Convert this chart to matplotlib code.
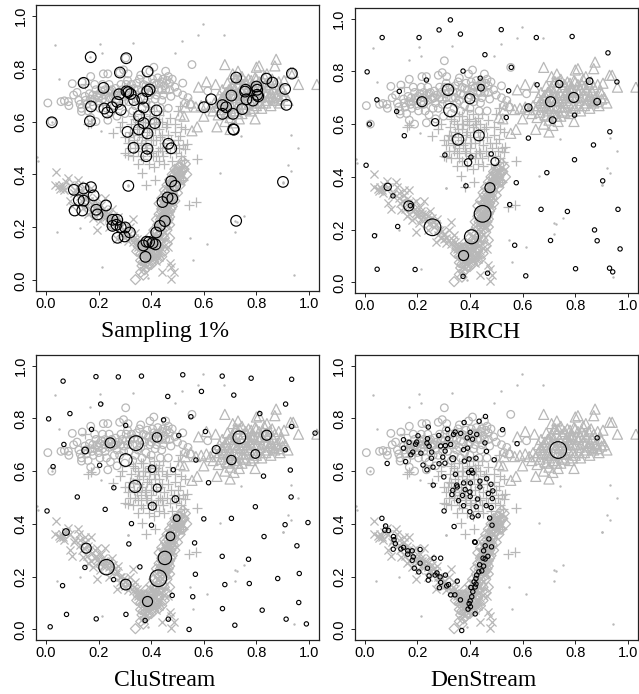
import numpy as np
import matplotlib
matplotlib.use('Agg')
import matplotlib.pyplot as plt

plt.rcParams['font.family'] = ['Liberation Sans', 'DejaVu Sans']

# background data as (x, y)
circles = np.array([
(.007,.67),(.057,.675),(.07,.678),(.085,.675),(.087,.66),(.10,.743),(.105,.70),(.118,.71),(.125,.68),(.13,.665),(.135,.65),
(.135,.638),(.138,.748),(.17,.77),(.022,.60),(.19,.60),(.17,.615),(.148,.695),(.155,.665),(.168,.685),(.178,.70),(.19,.72),
(.20,.69),(.205,.65),(.218,.78),(.235,.78),(.28,.785),(.295,.795),(.312,.78),(.303,.84),(.235,.605),(.25,.72),(.24,.69),
(.222,.70),(.21,.715),(.23,.65),(.245,.635),(.26,.70),(.265,.725),(.27,.68),(.28,.66),(.29,.72),(.295,.695),(.305,.74),
(.315,.675),(.32,.72),(.33,.70),(.34,.66),(.345,.745),(.35,.72),(.355,.76),(.36,.69),(.37,.74),(.375,.71),(.38,.67),(.385,.755),
(.39,.73),(.395,.79),(.40,.71),(.405,.76),(.41,.805),(.415,.685),(.42,.74),(.425,.765),(.43,.72),(.435,.65),(.44,.75),(.445,.70),
(.45,.735),(.455,.79),(.46,.755),(.465,.77),(.47,.72),(.465,.65),(.475,.695),(.49,.73),(.50,.71),(.52,.745),(.555,.815),(.54,.69),
(.53,.67),(.52,.70),(.55,.665),(.30,.63),(.33,.64),(.27,.62),(.18,.66),(.16,.64),(.20,.67),(.215,.74),(.24,.74),(.26,.66),
(.285,.74),(.31,.70),(.345,.70),(.365,.65),(.40,.66),(.42,.70),(.44,.72),(.615,.715),(.185,.74),(.225,.72),(.31,.755),(.36,.775),
(.15,.68),(.165,.705),(.175,.675),(.185,.685),(.195,.70),(.205,.705),(.215,.685),(.225,.675),(.235,.71),(.245,.715),(.255,.695),
(.265,.70),(.275,.71),(.285,.70),(.295,.675),(.305,.715),(.325,.74),(.335,.725),(.35,.68),(.365,.715),(.38,.735),(.395,.70),
(.41,.72),(.43,.745),(.445,.76),(.455,.72),(.47,.745),(.48,.76),(.44,.68),(.41,.745)])
triangles = np.array([
(.68,.815),(.58,.73),(.61,.75),(.51,.625),(.525,.62),(.555,.565),(.575,.58),(.60,.62),(.53,.655),(.55,.67),(.57,.655),(.59,.66),
(.61,.665),(.625,.655),(.635,.64),(.64,.67),(.645,.74),(.65,.58),(.655,.625),(.66,.70),(.665,.645),(.67,.72),(.675,.665),(.68,.60),
(.685,.635),(.69,.745),(.695,.69),(.70,.615),(.70,.57),(.705,.66),(.71,.74),(.71,.78),(.715,.595),(.72,.70),(.72,.64),(.725,.76),
(.73,.79),(.73,.665),(.735,.61),(.74,.72),(.74,.685),(.745,.77),(.75,.74),(.75,.65),(.755,.70),(.76,.665),(.765,.72),(.77,.76),
(.775,.68),(.78,.64),(.785,.74),(.79,.70),(.795,.61),(.80,.805),(.80,.76),(.80,.66),(.81,.72),(.81,.81),(.815,.69),(.82,.65),
(.825,.75),(.83,.71),(.835,.67),(.84,.78),(.845,.73),(.85,.695),(.855,.66),(.86,.76),(.865,.72),(.87,.81),(.87,.68),(.875,.835),
(.88,.705),(.885,.75),(.89,.67),(.895,.725),(.90,.695),(.905,.755),(.91,.70),(.92,.68),(.93,.785),(.94,.785),(.96,.74),(1.03,.74),
(.67,.69),(.69,.665),(.70,.72),(.715,.67),(.73,.74),(.745,.63),(.76,.75),(.775,.71),(.79,.67),(.805,.73),(.82,.70),(.84,.68),
(.855,.71),(.87,.74),(.65,.655),(.66,.67),(.68,.70),(.725,.69),(.755,.68),(.785,.72),
(.675,.68),(.685,.71),(.695,.72),(.70,.65),(.71,.70),(.715,.72),(.72,.76),(.735,.70),(.735,.76),(.745,.71),(.75,.665),(.76,.71),
(.765,.69),(.77,.73),(.78,.70),(.78,.755),(.79,.73),(.795,.765),(.80,.70),(.81,.75),(.815,.67),(.82,.73),(.83,.77),(.835,.74),
(.84,.705),(.85,.75),(.86,.69),(.875,.70),(.885,.685),(.90,.715),(.69,.63),(.70,.67),(.715,.64),(.73,.63),(.76,.645),(.79,.65)])
pluses = np.array([
(.16,.59),(.17,.595),(.15,.74),(.255,.555),(.28,.58),(.29,.60),(.30,.48),(.31,.475),(.32,.50),(.30,.54),(.31,.52),(.32,.56),
(.325,.59),(.33,.47),(.335,.53),(.34,.61),(.345,.57),(.35,.49),(.35,.44),(.355,.55),(.36,.63),(.36,.51),(.365,.405),(.37,.58),
(.37,.46),(.375,.60),(.38,.53),(.38,.36),(.385,.49),(.39,.57),(.39,.44),(.395,.62),(.40,.51),(.40,.55),(.405,.47),(.41,.59),
(.41,.43),(.415,.38),(.42,.53),(.42,.61),(.425,.49),(.43,.57),(.43,.45),(.435,.50),(.44,.55),(.44,.60),(.445,.47),(.45,.44),
(.45,.52),(.455,.58),(.46,.50),(.465,.55),(.47,.48),(.475,.53),(.48,.45),(.485,.51),(.49,.56),(.495,.48),(.50,.53),(.505,.50),
(.51,.545),(.515,.47),(.52,.51),(.525,.455),(.53,.495),(.535,.515),(.52,.38),(.545,.285),(.57,.295),(.575,.46),(.35,.60),(.37,.63),
(.39,.655),(.41,.64),(.43,.625),(.445,.64),(.47,.615),(.46,.59),(.49,.59),(.515,.58),(.53,.57),(.50,.64),(.51,.66),(.33,.62),
(.315,.54),(.33,.555),(.345,.52),(.355,.58),(.365,.54),(.375,.52),(.385,.56),(.395,.595),(.405,.53),(.415,.57),(.425,.60),(.435,.54),
(.34,.50),(.36,.47),(.38,.50),(.40,.48),(.42,.47),(.44,.49),(.37,.60),(.39,.61)])
crosses = np.array([
(.037,.41),(.035,.36),(.05,.355),(.055,.345),(.06,.36),(.065,.35),(.07,.34),(.075,.37),(.085,.385),(.09,.36),(.09,.30),(.10,.28),
(.105,.33),(.11,.34),(.12,.38),(.125,.36),(.13,.32),(.135,.30),(.14,.275),(.15,.33),(.155,.28),(.165,.30),(.17,.35),(.17,.26),
(.18,.235),(.185,.27),(.195,.31),(.195,.19),(.20,.25),(.205,.225),(.21,.285),(.22,.26),(.225,.31),(.23,.24),(.24,.25),(.245,.22),
(.25,.27),(.26,.23),(.265,.21),(.27,.155),(.275,.24),(.285,.20),(.29,.17),(.30,.185),(.31,.15),(.32,.20),(.33,.23),(.335,.16),
(.345,.14),(.35,.125),(.36,.11),(.37,.14),(.38,.12),(.39,.10),(.40,.13),(.41,.09),(.42,.075),(.43,.105),(.44,.12),(.45,.13),
(.465,.125),(.44,.03),(.475,.05),(.47,.065),(.485,.03),(.475,.005),(.15,.35),(.13,.34),(.16,.25),(.19,.28),(.215,.24),(.24,.20),
(.28,.18),(.31,.17),(.36,.13),(.34,.18),
(.145,.31),(.16,.315),(.175,.29),(.185,.30),(.195,.265),(.205,.26),(.215,.27),(.23,.26),(.24,.235),(.255,.245),(.27,.22),(.28,.20),
(.295,.195),(.30,.165),(.32,.16),(.33,.145),(.345,.155),(.355,.14),(.37,.115),(.385,.105),(.40,.09),(.415,.105),(.43,.09)])
diamonds = np.array([
(.34,.003),(.36,.03),(.365,.055),(.37,.02),(.375,.04),(.38,.065),(.385,.05),(.36,.075),(.37,.09),(.365,.12),(.375,.11),(.38,.13),
(.385,.10),(.39,.08),(.395,.145),(.40,.115),(.405,.09),(.41,.135),(.41,.16),(.415,.11),(.42,.18),(.42,.14),(.425,.21),(.43,.12),
(.43,.17),(.435,.23),(.435,.15),(.44,.19),(.44,.26),(.445,.28),(.445,.21),(.45,.16),(.45,.24),(.455,.30),(.455,.27),(.46,.19),
(.46,.22),(.46,.32),(.465,.25),(.465,.34),(.47,.29),(.47,.21),(.475,.36),(.475,.27),(.48,.31),(.48,.33),(.485,.38),(.485,.35),
(.49,.30),(.49,.40),(.495,.37),(.50,.33),(.50,.42),(.505,.39),(.51,.36),(.51,.43),(.515,.41),(.52,.45),(.52,.38),(.525,.42),
(.53,.44),(.535,.40),(.43,.29),(.44,.31),(.45,.34),(.46,.36),(.47,.38),(.48,.40),(.49,.42),(.44,.24),(.45,.22),(.46,.26),
(.47,.24),(.48,.28),(.42,.23),(.43,.25),(.43,.20),(.41,.19),(.40,.17),(.39,.12),(.38,.15),(.35,.13),(.345,.11),(.40,.14),
(.42,.10),(.44,.09),(.45,.11),(.46,.14),(.47,.16),(.40,.06),(.41,.07),(.43,.08),(.445,.17),(.455,.20),(.465,.29),(.475,.32),
(.485,.34),(.495,.39),(.505,.41),(.44,.27),(.45,.28),(.46,.30),
(.415,.15),(.425,.13),(.42,.16),(.43,.15),(.435,.18),(.44,.21),(.445,.23),(.45,.25),(.45,.30),(.455,.23),(.455,.33),(.46,.28),
(.465,.23),(.465,.31),(.47,.26),(.47,.33),(.475,.30),(.48,.35),(.48,.37),(.485,.32),(.49,.36),(.49,.38),(.495,.41),(.50,.37),
(.505,.43),(.51,.40),(.515,.38),(.52,.42),(.395,.10),(.405,.13),(.385,.12),(.375,.13),(.36,.10),(.37,.07),(.38,.09),(.39,.06)])
dots = np.array([
(.596,.968),(.678,.927),(.519,.905),(.577,.927),(.033,.889),(.206,.892),(.331,.897),(.213,.860),(.169,.842),(.490,.860),(.048,.760),
(.043,.183),(.131,.199),(.213,.050),(.311,.359),(.21,.565),(.661,.405),(.902,.369),(.919,.435),(.931,.414),(.931,.549),(.957,.499),
(.741,.544),(.725,.222),(.753,.243),(.718,.183),(.549,.160),(.614,.136),(.558,.076),(.942,.020),(-.034,.467),(-.03,.452),(.388,.01),
(.022,.60),(.72,.225),(.90,.37),(.31,.357)])

# clusters of each method
sampling = np.array([
(.17,.843),(.305,.839),(.281,.785),(.386,.789),(.143,.746),(.219,.727),(.022,.597),(.171,.657),(.167,.601),(.222,.649),(.233,.634),
(.251,.654),(.271,.674),(.278,.703),(.284,.644),(.306,.714),(.322,.704),(.313,.711),(.335,.681),(.366,.687),(.385,.714),(.394,.721),
(.42,.642),(.371,.653),(.354,.621),(.371,.594),(.414,.594),(.31,.561),(.353,.57),(.386,.555),(.333,.501),(.386,.497),(.381,.469),
(.465,.516),(.476,.499),(.313,.357),(.476,.374),(.491,.357),(.462,.313),(.48,.309),(.443,.296),(.106,.342),(.143,.347),(.171,.352),
(.181,.321),(.125,.303),(.143,.301),(.109,.264),(.138,.264),(.191,.267),(.196,.249),(.228,.283),(.253,.229),(.271,.229),(.253,.206),
(.268,.21),(.284,.201),(.301,.2),(.319,.181),(.299,.166),(.272,.161),(.452,.224),(.433,.206),(.419,.181),(.37,.132),(.382,.146),
(.392,.145),(.405,.141),(.416,.136),(.378,.089),(.723,.225),(.901,.372),(.601,.654),(.628,.684),(.671,.662),(.685,.654),(.671,.629),
(.705,.698),(.711,.629),(.723,.766),(.714,.569),(.712,.571),(.746,.647),(.759,.72),(.757,.713),(.762,.684),(.787,.679),(.8,.732),
(.803,.72),(.803,.701),(.807,.695),(.838,.762),(.861,.747),(.909,.723),(.914,.663),(.935,.781)])
birch_small = np.array([
(.326,.995),(.283,.957),(.364,.941),(.519,.958),(.067,.928),(.207,.928),(.652,.928),(.788,.932),(.924,.870),(.457,.863),(.010,.798),
(.374,.801),(.557,.815),(.439,.774),(.235,.767),(.132,.724),(.047,.692),(.958,.760),(.547,.726),(.655,.749),(.122,.648),(.019,.600),
(.538,.625),(.797,.634),(.151,.556),(.931,.571),(.622,.547),(.869,.521),(.006,.444),(.305,.483),(.404,.475),(.481,.487),(.797,.465),
(.904,.385),(.692,.416),(.576,.378),(.385,.366),(.108,.328),(.174,.291),(.551,.295),(.670,.277),(.770,.269),(.962,.277),(.126,.212),
(.038,.177),(.873,.199),(.706,.159),(.883,.158),(.570,.141),(.970,.127),(.048,.050),(.192,.049),(.801,.052),(.930,.054),(.942,.040),
(.467,.035),(.374,.023),(.612,.025)])
birch_big = np.array([
(.317,.730),(.218,.685),(.326,.653),(.400,.696),(.268,.607),(.355,.542),(.434,.557),(.393,.455),(.495,.458),(.442,.738),(.476,.359),
(.088,.362),(.168,.290),(.258,.209),(.448,.260),(.406,.173),(.376,.102),(.622,.663),(.706,.685),(.714,.615),(.739,.752),(.794,.701),
(.854,.763),(.883,.685)])
birch_weight = [3.4,3.0,4.0,3.0,2.2,3.4,3.2,2.2,2.4,2.0,3.0,2.2,3.0,5.0,5.0,4.2,3.0,2.2,3.0,2.0,2.2,3.0,2.0,2.0]
clustream_small = np.array([
(.065,.941),(.19,.958),(.275,.957),(.363,.960),(.520,.965),(.670,.960),(.780,.952),(.934,.948),(.591,.902),(.463,.883),(.714,.888),
(.911,.854),(.208,.854),(.010,.798),(.091,.818),(.813,.818),(.551,.806),(.447,.794),(.303,.773),(.173,.758),(.934,.769),(.068,.701),
(.606,.750),(.505,.735),(1.023,.744),(.910,.681),(.027,.617),(.204,.622),(.570,.642),(.484,.605),(.929,.604),(.827,.581),(.618,.556),
(.258,.537),(.119,.502),(.932,.502),(.004,.449),(.225,.455),(.796,.465),(.600,.419),(.705,.421),(.325,.401),(.401,.395),(.909,.397),
(.996,.405),(.829,.352),(.315,.324),(.565,.328),(.954,.317),(.670,.277),(.770,.266),(.357,.237),(.148,.235),(.257,.189),(.568,.209),
(.963,.212),(.881,.193),(.063,.166),(.680,.170),(.773,.174),(.480,.129),(.558,.124),(.961,.102),(.671,.079),(.822,.073),(.078,.057),
(.304,.057),(.191,.040),(.465,.039),(.377,.034),(.913,.039),(.990,.021),(.718,.016),(.016,.010),(.544,.000)])
clustream_big = np.array([
(.244,.707),(.342,.706),(.422,.728),(.303,.642),(.149,.678),(.403,.609),(.339,.542),(.423,.536),(.404,.467),(.492,.494),(.497,.422),
(.473,.353),(.076,.369),(.153,.308),(.230,.236),(.303,.170),(.386,.106),(.427,.194),(.452,.271),(.647,.682),(.705,.642),(.735,.728),
(.796,.665),(.839,.736)])
clustream_weight = [3.0,4.4,2.8,3.8,2.0,2.2,3.6,2.4,2.4,2.0,2.0,2.6,2.0,3.0,4.6,3.2,3.0,5.0,4.0,2.4,2.8,3.8,2.6,3.0]
denstream_small = np.array([
(.459,.807),(.435,.789),(.378,.784),(.524,.757),(.242,.767),(.315,.758),(.883,.726),(.344,.748),(.338,.739),(.365,.743),(.401,.747),
(.426,.739),(.203,.734),(.148,.719),(.169,.709),(.148,.687),(.198,.710),(.194,.702),(.239,.723),(.237,.706),(.245,.694),(.282,.735),
(.316,.723),(.289,.695),(.307,.697),(.327,.701),(.390,.726),(.410,.721),(.457,.707),(.579,.704),(.391,.687),(.376,.681),(.463,.675),
(.183,.672),(.176,.662),(.214,.668),(.255,.672),(.254,.649),(.297,.653),(.306,.676),(.397,.646),(.379,.638),(.423,.649),(.492,.643),
(.086,.629),(.156,.636),(.283,.628),(.305,.630),(.222,.623),(.237,.605),(.260,.615),(.406,.603),(.411,.593),(.395,.595),(.345,.588),
(.301,.578),(.464,.571),(.438,.562),(.480,.550),(.261,.547),(.350,.547),(.376,.555),(.402,.555),(.335,.527),(.352,.540),(.382,.530),
(.438,.540),(.487,.525),(.400,.521),(.470,.515),(.332,.511),(.372,.508),(.401,.504),(.429,.494),(.485,.496),(.357,.488),(.376,.469),
(.424,.465),(.462,.469),(.481,.462),(.302,.449),(.400,.446),(.409,.426),(.431,.431),(.475,.422),(.484,.395),(.340,.390),(.066,.421),
(.080,.392),(.077,.376),(.091,.375),(.110,.352),(.112,.340),(.117,.325),(.109,.304),(.138,.305),(.148,.311),(.164,.298),(.164,.285),
(.181,.298),(.211,.303),(.185,.275),(.181,.262),(.189,.232),(.206,.218),(.211,.251),(.239,.232),(.245,.203),(.242,.187),(.264,.270),
(.289,.270),(.268,.206),(.275,.214),(.287,.199),(.307,.206),(.289,.178),(.284,.158),(.312,.165),(.319,.170),(.352,.183),(.327,.131),
(.343,.131),(.364,.112),(.418,.332),(.420,.330),(.472,.343),(.482,.313),(.458,.317),(.452,.298),(.468,.277),(.450,.270),(.458,.267),
(.437,.245),(.452,.240),(.445,.222),(.434,.218),(.426,.206),(.423,.193),(.416,.180),(.423,.172),(.404,.159),(.420,.161),(.411,.143),
(.407,.124),(.401,.108),(.397,.098),(.402,.086),(.393,.077),(.420,.059),(.369,-.004)])
denstream_big = np.array([(.735,.680),(.335,.647)])
denstream_weight = [5.0,1.8]

panel_names = ['Sampling 1%', 'BIRCH', 'CluStream', 'DenStream']
ticks = [0.0, 0.2, 0.4, 0.6, 0.8, 1.0]
GREY = '#b8b8b8'
W, H = 639, 694


def px_axes(fig, left, top, right, bottom):
    return fig.add_axes([left/W, 1-bottom/H, (right-left)/W, (bottom-top)/H])


def background(ax):
    lw = 0.9
    ax.scatter(dots[:, 0], dots[:, 1], s=3, c=GREY, linewidths=0)
    ax.scatter(circles[:, 0], circles[:, 1], s=30, facecolors='none', edgecolors=GREY, linewidths=lw)
    ax.scatter(triangles[:, 0], triangles[:, 1], s=52, marker='^', facecolors='none', edgecolors=GREY, linewidths=lw)
    ax.scatter(pluses[:, 0], pluses[:, 1], s=50, marker='+', c=GREY, linewidths=lw)
    ax.scatter(crosses[:, 0], crosses[:, 1], s=34, marker='x', c=GREY, linewidths=lw)
    ax.scatter(diamonds[:, 0], diamonds[:, 1], s=26, marker='D', facecolors='none', edgecolors=GREY, linewidths=lw)


def clusters(ax, pts, weight, lw=0.85):
    size = (2.4*np.asarray(weight))**2
    ax.scatter(pts[:, 0], pts[:, 1], s=size, facecolors='none', edgecolors='black', linewidths=lw, zorder=5)


fig = plt.figure(figsize=(W/100, H/100), dpi=100)

ax1 = px_axes(fig, 36, 5, 319, 291)
ax2 = px_axes(fig, 354.5, 8, 638, 293)
ax3 = px_axes(fig, 36, 355, 319, 640)
ax4 = px_axes(fig, 354.5, 355, 638, 640)

for ax in [ax1, ax2, ax3, ax4]:
    background(ax)
    ax.set_xlim(-0.038, 1.038)
    ax.set_ylim(-0.04, 1.04)
    ax.set_xticks(ticks)
    ax.set_yticks(ticks)
    ax.set_xticklabels(['%.1f' % t for t in ticks])
    ax.set_yticklabels(['%.1f' % t for t in ticks], rotation=90, va='center')
    ax.tick_params(length=3, width=0.7, labelsize=10.5, color='#222222')
    ax.tick_params(axis='x', pad=1.5)
    ax.tick_params(axis='y', pad=3)
    for s in ax.spines.values():
        s.set_linewidth(0.9)
        s.set_color('#222222')

clusters(ax1, sampling, [3.2]*len(sampling))
clusters(ax2, birch_small, [1.3]*len(birch_small), 0.8)
clusters(ax2, birch_big, birch_weight)
clusters(ax3, clustream_small, [1.3]*len(clustream_small), 0.8)
clusters(ax3, clustream_big, clustream_weight)
clusters(ax4, denstream_small, [1.3]*len(denstream_small), 0.8)
clusters(ax4, denstream_big, denstream_weight)

label_pos = [(165, 331), (484, 333), (165, 681), (483, 681)]
for name, (x, y) in zip(panel_names, label_pos):
    fig.text(x/W, 1-y/H, name, family=['Liberation Serif'], fontsize=17, ha='center', va='center')

fig.savefig('out.png', dpi=100)
